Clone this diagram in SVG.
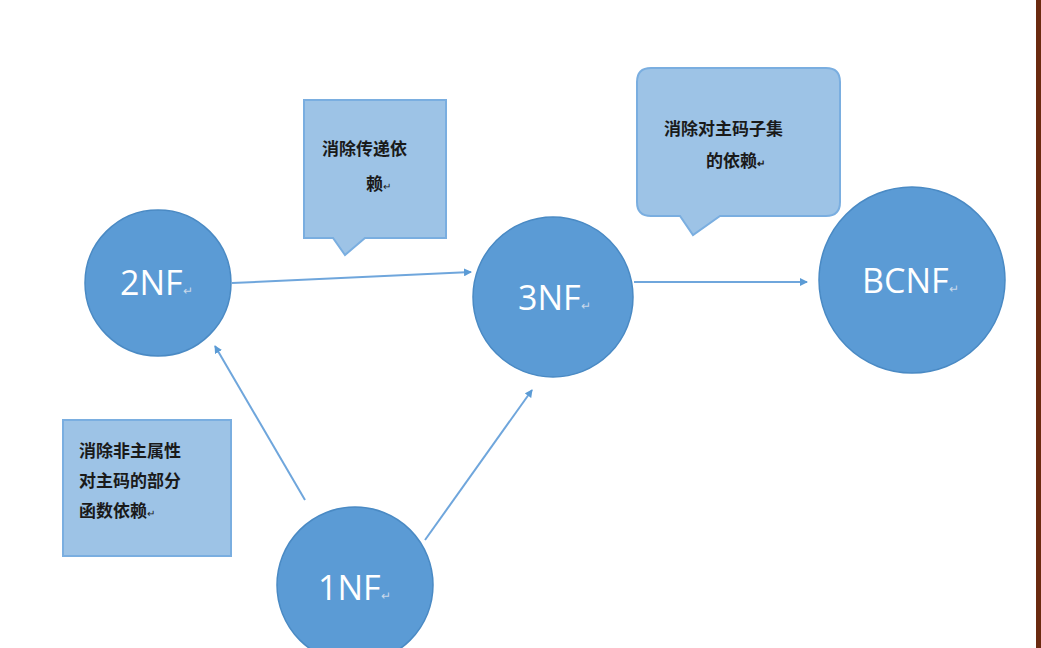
<svg xmlns="http://www.w3.org/2000/svg" width="1041" height="648" viewBox="0 0 1041 648">
<defs>
<style>
.c{fill:#5b9bd5;stroke:#4a8ac4;stroke-width:1.5}
.ct{font-family:"Open Sans","Liberation Sans",sans-serif;font-size:34px;fill:#fff}
.m{font-size:12px;fill:#c8d8ea}
.b{fill:#9dc3e6;stroke:#7aaee0;stroke-width:2}
.bt{font-family:"Liberation Sans","Noto Sans CJK SC",sans-serif;font-size:17px;font-weight:bold;fill:#1a1a1a}
.e{stroke:#6fa6dc;stroke-width:2;fill:none;marker-end:url(#a)}
</style>
<marker id="a" markerWidth="8" markerHeight="8" refX="7" refY="4" orient="auto" markerUnits="userSpaceOnUse"><path d="M0,0L8,4L0,8z" fill="#5b9bd5"/></marker>
</defs>
<rect width="1041" height="648" fill="#fff"/>
<rect x="1036" y="0" width="5" height="648" fill="#6b2a10"/>
<g id="edges">
<path class="e" d="M232,283L471,272"/>
<path class="e" d="M634,282L807,282"/>
<path class="e" d="M305,500L215,346"/>
<path class="e" d="M425,540L532,390"/>
</g>
<g id="n2NF"><circle class="c" cx="158" cy="283" r="73"/><text class="ct" x="120" y="295">2NF<tspan class="m">↵</tspan></text></g>
<g id="n3NF"><circle class="c" cx="553" cy="297" r="80"/><text class="ct" x="518" y="310">3NF<tspan class="m">↵</tspan></text></g>
<g id="nBCNF"><circle class="c" cx="912" cy="280" r="93"/><text class="ct" x="862" y="293">BCNF<tspan class="m">↵</tspan></text></g>
<g id="n1NF"><circle class="c" cx="355" cy="585" r="78"/><text class="ct" x="318" y="600">1NF<tspan class="m">↵</tspan></text></g>
<g id="callout1"><path class="b" d="M304,100H446V238H365L345,255L333,238H304Z"/><text class="bt" x="322" y="155">消除传递依</text><text class="bt" x="366" y="190">赖<tspan font-size="10" font-weight="normal">↵</tspan></text></g>
<g id="callout2"><path class="b" d="M651,68H826Q840,68 840,82V202Q840,216 826,216H720L693,235L680,216H651Q637,216 637,202V82Q637,68 651,68Z"/><text class="bt" x="664" y="135" font-weight="normal">消除对主码子集</text><text class="bt" x="706" y="167" font-weight="normal">的依赖<tspan font-size="10">↵</tspan></text></g>
<g id="note"><rect class="b" x="63" y="420" width="168" height="136"/><text class="bt" x="79" y="457">消除非主属性</text><text class="bt" x="79" y="487">对主码的部分</text><text class="bt" x="79" y="517">函数依赖<tspan font-size="10" font-weight="normal">↵</tspan></text></g>
</svg>
